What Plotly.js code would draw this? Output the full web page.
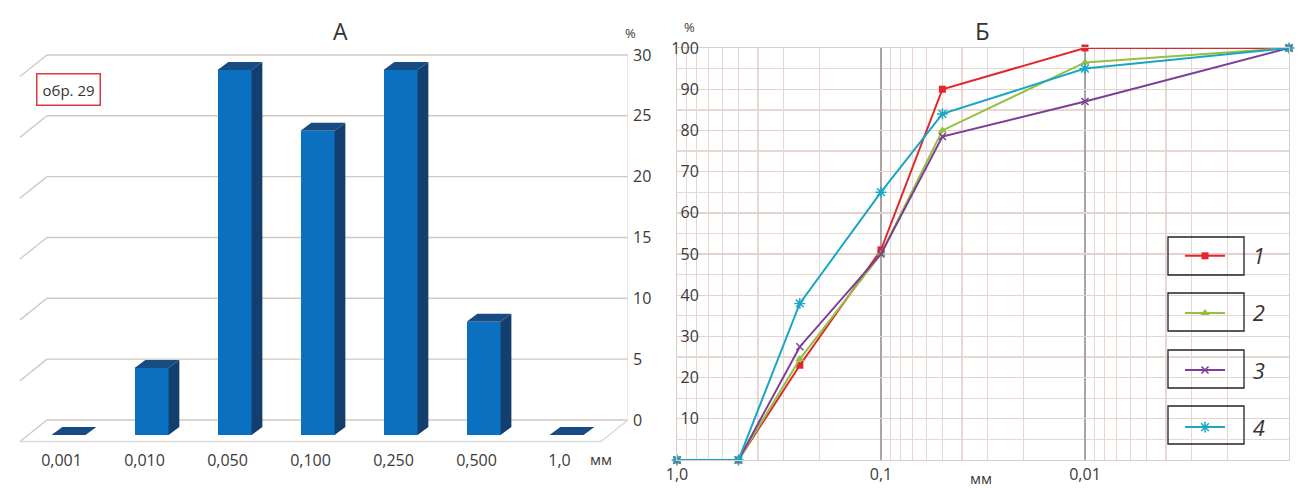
<!DOCTYPE html>
<html><head><meta charset="utf-8">
<script src="https://cdn.plot.ly/plotly-3.0.1.min.js"></script>
<style>html,body{margin:0;padding:0;background:#fff}#chart{width:1299px;height:488px}</style>
</head><body><div id="chart"></div>
<script>
// ---- Chart A: fraction shares ----
const fractions = ['0,001','0,010','0,050','0,100','0,250','0,500','1,0'];
const fractionShare = [0, 5.5, 30, 25, 30, 9.3, 0];
const shareTicks = [0, 5, 10, 15, 20, 25, 30];
// ---- Chart B: cumulative curves ----
const grainSizes = [1, 0.5, 0.25, 0.1, 0.05, 0.01, 0.001];
const curve1 = [0, 0, 23, 51, 90, 100, 100];
const curve2 = [0, 0, 24.5, 50, 80, 96.5, 100];
const curve3 = [0, 0, 27.5, 50, 78.5, 87, 100];
const curve4 = [0, 0, 38, 65, 84, 95, 100];
const seriesNames = ['1', '2', '3', '4'];
const sizeTickVals = [1, 0.1, 0.01, 0.001];
const sizeTickText = ['1,0', '0,1', '0,01', '0,001\u00a0\u00a0\u00a0\u00a0\u00a0\u00a0\u00a0'];
const cumTicks = [10, 20, 30, 40, 50, 60, 70, 80, 90, 100];

const W = 1299, H = 488;
const px = p => p / W, py = p => 1 - p / H;
const FONT = 'Open Sans, Noto Sans, sans-serif';
const TXT = '#3a3a3a';

// 3D bar geometry (in axis units)
const off = -0.24, bw = 0.41, dx = 0.13, dy = 0.66, base0 = -1.23;
const sideX = [], sideY = [], topX = [], topY = [];
fractionShare.forEach((v, i) => {
  const xl = i + off - bw / 2, xr = i + off + bw / 2, b = base0, t = v + base0;
  sideX.push(xr, xr + dx, xr + dx, xr, xr, null);
  sideY.push(b, b + dy, t + dy, t, b, null);
  topX.push(xl, xl + dx, xr + dx, xr, xl, null);
  topY.push(t, t + dy, t + dy, t, t, null);
});

const traces = [
  {type: 'bar', x: fractionShare.map((_, i) => i + off), y: fractionShare, base: base0,
   width: bw, marker: {color: '#0b70bf', line: {width: 0}}, xaxis: 'x', yaxis: 'y',
   showlegend: false, hoverinfo: 'skip', cliponaxis: false},
  {type: 'scatter', mode: 'lines', x: sideX, y: sideY, fill: 'toself', fillcolor: '#123f6e',
   line: {width: 0}, xaxis: 'x', yaxis: 'y', showlegend: false, hoverinfo: 'skip'},
  {type: 'scatter', mode: 'lines', x: topX, y: topY, fill: 'toself', fillcolor: '#174c82',
   line: {width: 0}, xaxis: 'x', yaxis: 'y', showlegend: false, hoverinfo: 'skip'}
];

const curveDefs = [
  {y: curve1, color: '#e2262c', symbol: 'square', size: 7, lw: 0},
  {y: curve2, color: '#93c03f', symbol: 'triangle-up', size: 8, lw: 0},
  {y: curve3, color: '#7b3d98', symbol: 'x-thin-open', size: 7, lw: 1.5},
  {y: curve4, color: '#19a7c4', symbol: 'asterisk-open', size: 9, lw: 1.5}
];
const NBSP = '\u00a0\u00a0\u00a0\u00a0';
curveDefs.forEach((c, k) => {
  traces.push({type: 'scatter', mode: 'lines+markers', x: grainSizes, y: c.y,
    name: NBSP + seriesNames[k], legendgroup: 'g' + k,
    line: {color: c.color, width: 2},
    marker: {symbol: c.symbol, size: c.size, color: c.color, line: {color: c.color, width: c.lw}},
    xaxis: 'x2', yaxis: 'y2', cliponaxis: false});
});

// Decorations for chart A (back wall gridlines, left wall, floor)
const GRID_A = '#d6c7be';
const shapes = [];
const wallDX = -0.325, wallDY = -1.77;
shareTicks.forEach(v => {
  shapes.push({type: 'line', xref: 'x', yref: 'y', x0: -0.5, x1: 6.5, y0: v, y1: v,
    line: {color: GRID_A, width: 1.4}, layer: 'below'});
  shapes.push({type: 'line', xref: 'x', yref: 'y', x0: -0.5, x1: -0.5 + wallDX, y0: v, y1: v + wallDY,
    line: {color: GRID_A, width: 1.4}, layer: 'below'});
});
shapes.push({type: 'line', xref: 'x', yref: 'y', x0: -0.5 + wallDX, x1: 6.5 + wallDX, y0: wallDY, y1: wallDY,
  line: {color: '#d9d9d9', width: 1.4}, layer: 'below'});
shapes.push({type: 'line', xref: 'x', yref: 'y', x0: 6.5, x1: 6.5 + wallDX, y0: 0, y1: wallDY,
  line: {color: '#d9d9d9', width: 1.4}, layer: 'below'});
shapes.push({type: 'line', xref: 'x', yref: 'y', x0: 6.5, x1: 6.5, y0: 0, y1: 30,
  line: {color: '#e3dad4', width: 1.2}, layer: 'below'});

// Legend background (in chart B axis units: log10 for x) and boxes
const X2PX0 = 677, X2PPD = 204, Y2PX0 = 460, Y2PPU = 4.12;
const lx = p => -(p - X2PX0) / X2PPD;
const ly = p => (Y2PX0 - p) / Y2PPU;
shapes.push({type: 'rect', xref: 'x2', yref: 'y2', x0: lx(1147), x1: lx(1286), y0: ly(458), y1: ly(212),
  fillcolor: '#ffffff', line: {width: 0}, layer: 'between'});
[237, 293, 350, 406].forEach(t => {
  shapes.push({type: 'rect', xref: 'paper', yref: 'paper', x0: px(1168), x1: px(1244), y0: py(t + 38), y1: py(t),
    fillcolor: 'rgba(0,0,0,0)', line: {color: '#222', width: 1.3}, layer: 'above'});
});

// minor log gridlines
const minorLog = [];
[0.1, 0.01, 0.001].forEach(d => { for (let m = 2; m <= 9; m++) minorLog.push(m * d); });

const layout = {
  width: W, height: H, autosize: false,
  margin: {l: 0, r: 0, t: 0, b: 0},
  paper_bgcolor: '#fff', plot_bgcolor: 'rgba(0,0,0,0)',
  font: {family: FONT, color: TXT, size: 16},
  showlegend: true,
  bargap: 0,
  xaxis: {domain: [px(18), px(628)], range: [-0.849, 6.5], tickmode: 'array',
    tickvals: fractions.map((_, i) => i + wallDX), ticktext: fractions,
    showgrid: false, zeroline: false, showline: false, ticks: '', fixedrange: true,
    tickfont: {size: 16, color: TXT}},
  yaxis: {domain: [py(449.2), py(42.8)], range: [-2.4, 31], side: 'right', anchor: 'x',
    tickmode: 'array', tickvals: shareTicks, showgrid: false, zeroline: false, showline: false,
    ticks: '', ticklabelstandoff: 4, tickfont: {size: 16, color: TXT}},
  xaxis2: {type: 'log', domain: [px(677), px(1289)], range: [0, -3], anchor: 'y2',
    tickmode: 'array', tickvals: sizeTickVals, ticktext: sizeTickText,
    showgrid: true, gridcolor: '#aaa3a3', gridwidth: 1.2,
    minor: {tickmode: 'array', tickvals: minorLog, showgrid: true, gridcolor: '#e6d7d2', gridwidth: 1.4, ticks: ''},
    zeroline: false, showline: true, linecolor: '#d9cfcb', mirror: true, ticks: '',
    tickfont: {size: 16, color: TXT}},
  yaxis2: {domain: [py(460), py(48)], range: [0, 100], anchor: 'x2',
    tickmode: 'array', tickvals: cumTicks, ticks: '', ticklabelstandoff: -26,
    showgrid: true, gridcolor: '#e3d3ce', gridwidth: 1.4,
    minor: {dtick: 5, showgrid: true, gridcolor: '#e6d7d2', gridwidth: 1.4, ticks: ''},
    zeroline: false, showline: true, linecolor: '#d9cfcb', mirror: true,
    tickfont: {size: 16, color: TXT}},
  legend: {x: px(1180), y: py(235), xanchor: 'left', yanchor: 'top', bgcolor: 'rgba(0,0,0,0)',
    borderwidth: 0, tracegroupgap: 25.5, itemwidth: 40,
    font: {family: FONT, size: 22, style: 'italic', color: '#333'}},
  shapes: shapes,
  annotations: [
    {text: 'А', xref: 'paper', yref: 'paper', x: px(340), y: py(31), showarrow: false,
     font: {size: 23, color: '#333'}, xanchor: 'center', yanchor: 'middle'},
    {text: 'Б', xref: 'paper', yref: 'paper', x: px(982), y: py(30), showarrow: false,
     font: {size: 24, color: '#333'}, xanchor: 'center', yanchor: 'middle'},
    {text: '%', xref: 'paper', yref: 'paper', x: px(630), y: py(33), showarrow: false,
     font: {size: 13, color: TXT}, xanchor: 'center', yanchor: 'middle'},
    {text: '%', xref: 'paper', yref: 'paper', x: px(690), y: py(27), showarrow: false,
     font: {size: 13, color: TXT}, xanchor: 'center', yanchor: 'middle'},
    {text: 'мм', xref: 'paper', yref: 'paper', x: px(601), y: py(459), showarrow: false,
     font: {size: 15, color: TXT}, xanchor: 'center', yanchor: 'middle'},
    {text: 'мм', xref: 'paper', yref: 'paper', x: px(981), y: py(478), showarrow: false,
     font: {size: 15, color: TXT}, xanchor: 'center', yanchor: 'middle'},
    {text: 'обр. 29', xref: 'paper', yref: 'paper', x: px(68.5), y: py(89.5), showarrow: false,
     font: {size: 15, color: '#333'}, bordercolor: '#e0393e', borderwidth: 1.5, borderpad: 5,
     bgcolor: '#fff', xanchor: 'center', yanchor: 'middle'}
  ]
};

Plotly.newPlot('chart', traces, layout, {displayModeBar: false, staticPlot: true});
</script>
</body></html>
